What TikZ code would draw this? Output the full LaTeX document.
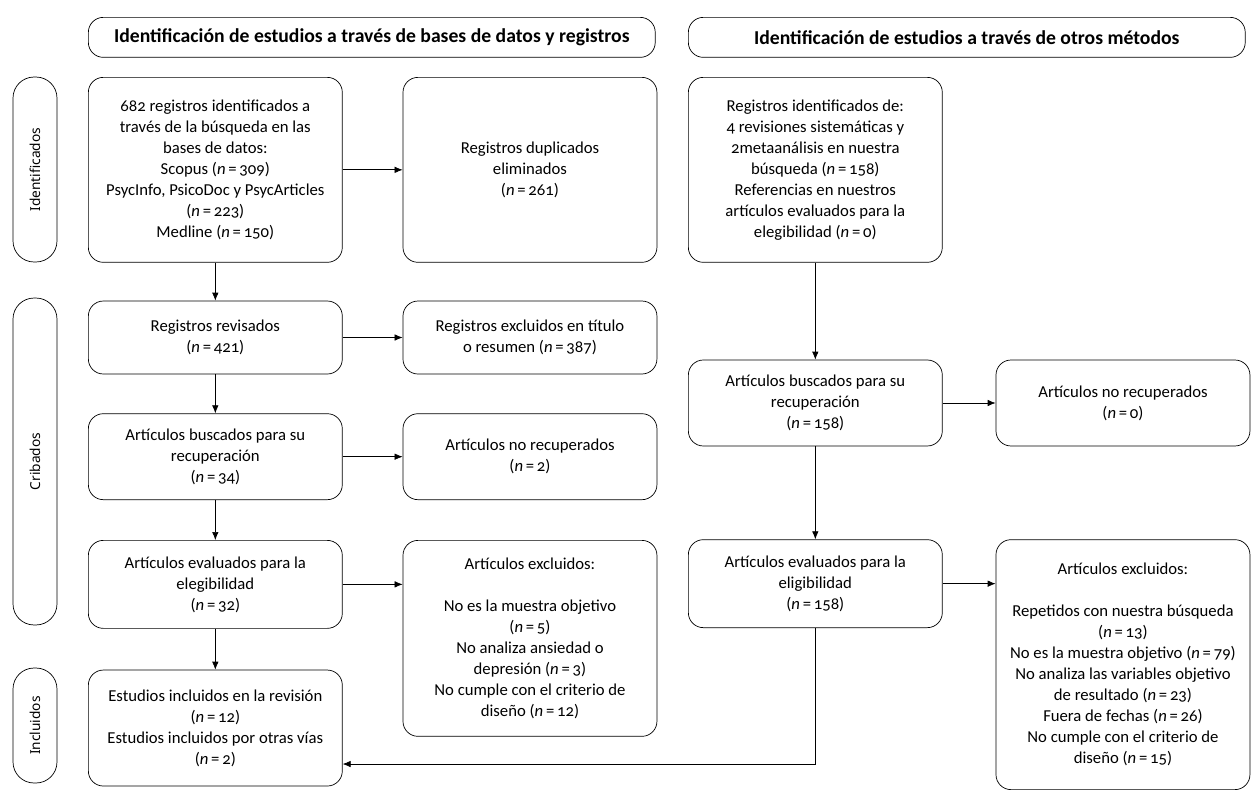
\documentclass[tikz,border=0pt]{standalone}
\usepackage{fontspec}
\setmainfont[Numbers=OldStyle]{Carlito}
\newfontfamily\stagefont{Noto Sans}
\usetikzlibrary{arrows.meta, positioning}
\newcommand{\ncount}[1]{(\textit{n}\,=\,#1)}

\begin{document}
\begin{tikzpicture}[x=0.02cm, y=-0.02cm, node distance=0.78cm,
  box/.style={draw, rounded corners=0.3cm, minimum width=5.08cm, inner sep=0pt, align=center, font=\fontsize{9.5}{11.95}\selectfont},
  stage/.style={draw, rounded corners=0.42cm, minimum height=0.88cm, inner sep=0pt, font=\stagefont\fontsize{7.8}{9}\selectfont},
  head/.style={draw, rounded corners=0.3cm, minimum height=0.8cm, inner sep=0pt, font=\fontsize{11.2}{13}\selectfont\bfseries},
  flow/.style={-{Latex[length=1.6mm,width=1.3mm]}}]
\useasboundingbox (0,0) rectangle (1252,789);

% headers
\node[head, minimum width=11.34cm, anchor=north west] (headdb) at (88,17) {Identificación de estudios a través de bases de datos y registros};
\node[head, minimum width=11.14cm, anchor=north west] (headoth) at (688,17) {Identificación de estudios a través de otros métodos};

% stages
\node[stage, rotate=90, minimum width=3.7cm] (ident) at (35,169.5) {Identificados};
\node[stage, rotate=90, minimum width=6.54cm] (cribado) at (35,461.5) {Cribados};
\node[stage, rotate=90, minimum width=2.3cm] (incluido) at (35,725.5) {Incluidos};

% databases and registers
\node[box, minimum height=3.7cm, anchor=north west] (dbrec) at (88,77) {682 registros identificados a\\través de la búsqueda en las\\bases de datos:\\Scopus \ncount{309}\\PsycInfo, PsicoDoc y PsycArticles\\\ncount{223}\\Medline \ncount{150}};
\node[box, minimum height=3.7cm, right=1.2cm of dbrec] (dup) {Registros duplicados\\eliminados\\\ncount{261}};
\node[box, minimum height=1.46cm, below=0.76cm of dbrec] (screen) {Registros revisados\\\ncount{421}};
\node[box, minimum height=1.46cm, right=1.2cm of screen] (screx) {Registros excluidos en título\\o resumen \ncount{387}};
\node[box, minimum height=1.72cm, below=0.78cm of screen] (sought) {Artículos buscados para su\\recuperación\\\ncount{34}};
\node[box, minimum height=1.72cm, right=1.2cm of sought] (notret) {Artículos no recuperados\\\ncount{2}};
\node[box, minimum height=1.76cm, below=0.8cm of sought] (elig) {Artículos evaluados para la\\elegibilidad\\\ncount{32}};
\node[box, minimum height=3.92cm, right=1.2cm of elig.north east, anchor=north west] (excl) {Artículos excluidos:\\[11.95pt]No es la muestra objetivo\\\ncount{5}\\No analiza ansiedad o\\depresión \ncount{3}\\No cumple con el criterio de\\diseño \ncount{12}};
\node[box, minimum height=2.32cm, below=0.82cm of elig] (incl) {Estudios incluidos en la revisión\\\ncount{12}\\Estudios incluidos por otras vías\\\ncount{2}};

% other methods
\node[box, minimum height=3.7cm, anchor=north west] (othrec) at (688,77) {Registros identificados de:\\4 revisiones sistemáticas y\\2metaanálisis en nuestra\\búsqueda \ncount{158}\\Referencias en nuestros\\artículos evaluados para la\\elegibilidad \ncount{0}};
\node[box, minimum height=1.72cm, below=1.94cm of othrec] (othsought) {Artículos buscados para su\\recuperación\\\ncount{158}};
\node[box, minimum height=1.72cm, right=1.06cm of othsought] (othnotret) {Artículos no recuperados\\\ncount{0}};
\node[box, minimum height=1.76cm, below=1.86cm of othsought] (othelig) {Artículos evaluados para la\\eligibilidad\\\ncount{158}};
\node[box, minimum height=5cm, right=1.06cm of othelig.north east, anchor=north west] (othexcl) {Artículos excluidos:\\[11.95pt]Repetidos con nuestra búsqueda\\\ncount{13}\\No es la muestra objetivo \ncount{79}\\No analiza las variables objetivo\\de resultado \ncount{23}\\Fuera de fechas \ncount{26}\\No cumple con el criterio de\\diseño \ncount{15}};

\draw[flow] (dbrec) -- (dup);
\draw[flow] (dbrec) -- (screen);
\draw[flow] (screen) -- (screx);
\draw[flow] (screen) -- (sought);
\draw[flow] (sought) -- (notret);
\draw[flow] (sought) -- (elig);
\draw[flow] (elig) -- (elig -| excl.west);
\draw[flow] (elig) -- (incl);

\draw[flow] (othrec) -- (othsought);
\draw[flow] (othsought) -- (othnotret);
\draw[flow] (othsought) -- (othelig);
\draw[flow] (othelig) -- (othelig -| othexcl.west);
\draw[flow] (othelig.south) |- ([yshift=-0.72cm]incl.east);
\end{tikzpicture}
\end{document}
